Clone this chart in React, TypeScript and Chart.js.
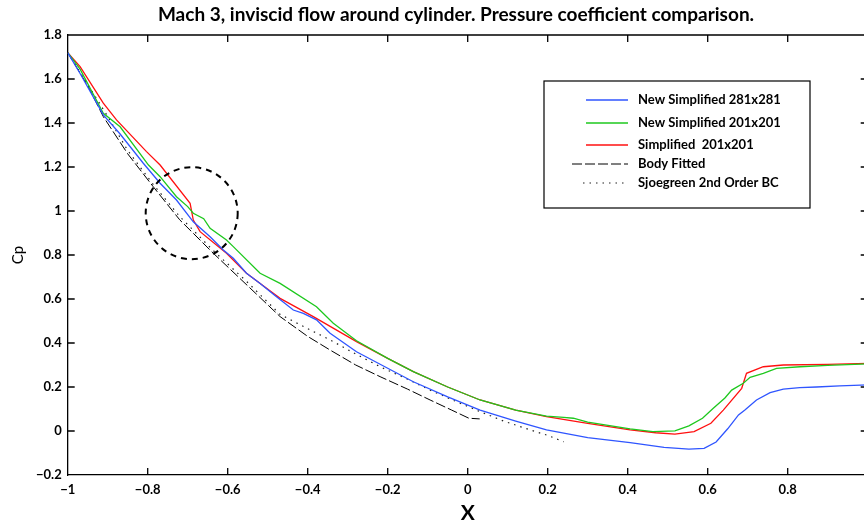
import React, { useEffect, useRef } from "react";
import { Chart, registerables } from "chart.js";

Chart.register(...registerables);

const titleText = "Mach 3, inviscid flow around cylinder. Pressure coefficient comparison.";
const xAxisLabel = "X";
const yAxisLabel = "Cp";

const xTickValues = [-1, -0.8, -0.6, -0.4, -0.2, 0, 0.2, 0.4, 0.6, 0.8];
const yTickValues = [-0.2, 0, 0.2, 0.4, 0.6, 0.8, 1, 1.2, 1.4, 1.6, 1.8];

const seriesLabels = [
  "New Simplified 281x281",
  "New Simplified 201x201",
  "Simplified  201x201",
  "Body Fitted",
  "Sjoegreen 2nd Order BC",
];

// New Simplified 281x281 (blue)
const blueX = [-1, -0.969, -0.911, -0.869, -0.811, -0.769, -0.728, -0.686, -0.644, -0.611, -0.586, -0.553, -0.519, -0.478, -0.436, -0.411, -0.378, -0.344, -0.278, -0.2, -0.136, -0.05, 0.031, 0.12, 0.197, 0.3, 0.406, 0.491, 0.553, 0.591, 0.621, 0.65, 0.677, 0.693, 0.722, 0.756, 0.789, 0.83, 0.872, 0.93, 1.0];
const blueY = [1.72, 1.625, 1.437, 1.35, 1.217, 1.126, 1.05, 0.951, 0.883, 0.823, 0.785, 0.717, 0.67, 0.61, 0.55, 0.535, 0.505, 0.444, 0.36, 0.285, 0.224, 0.155, 0.095, 0.045, 0.005, -0.03, -0.053, -0.074, -0.082, -0.079, -0.05, 0.01, 0.073, 0.095, 0.141, 0.174, 0.19, 0.197, 0.2, 0.205, 0.21];

// New Simplified 201x201 (green)
const greenX = [-1, -0.969, -0.911, -0.869, -0.798, -0.769, -0.728, -0.7, -0.686, -0.66, -0.644, -0.603, -0.586, -0.519, -0.469, -0.378, -0.336, -0.278, -0.2, -0.136, -0.05, 0.031, 0.12, 0.197, 0.24, 0.264, 0.3, 0.406, 0.463, 0.518, 0.553, 0.587, 0.614, 0.643, 0.66, 0.689, 0.706, 0.739, 0.772, 0.831, 0.9, 1.0];
const greenY = [1.72, 1.645, 1.444, 1.383, 1.209, 1.156, 1.065, 1.02, 0.99, 0.965, 0.921, 0.868, 0.838, 0.717, 0.671, 0.565, 0.49, 0.41, 0.33, 0.27, 0.2, 0.141, 0.095, 0.068, 0.062, 0.058, 0.04, 0.01, -0.003, 0.001, 0.023, 0.058, 0.103, 0.15, 0.186, 0.217, 0.244, 0.262, 0.285, 0.292, 0.298, 0.305];

// Simplified 201x201 (red)
const redX = [-1, -0.969, -0.911, -0.878, -0.803, -0.769, -0.694, -0.686, -0.669, -0.603, -0.553, -0.486, -0.469, -0.386, -0.278, -0.2, -0.136, -0.05, 0.031, 0.12, 0.197, 0.3, 0.406, 0.47, 0.518, 0.566, 0.608, 0.639, 0.685, 0.697, 0.739, 0.789, 0.9, 1.0];
const redY = [1.72, 1.656, 1.49, 1.414, 1.27, 1.209, 1.035, 0.959, 0.906, 0.808, 0.717, 0.626, 0.603, 0.52, 0.406, 0.33, 0.27, 0.2, 0.141, 0.095, 0.065, 0.035, 0.005, -0.008, -0.014, -0.003, 0.035, 0.095, 0.194, 0.262, 0.292, 0.3, 0.303, 0.307];

// Body Fitted (black dashed)
const bodyX = [-1, -0.95, -0.911, -0.85, -0.786, -0.72, -0.636, -0.55, -0.469, -0.4, -0.344, -0.28, -0.219, -0.15, -0.094, -0.04, 0.003, 0.03];
const bodyY = [1.72, 1.57, 1.429, 1.26, 1.11, 0.96, 0.808, 0.66, 0.52, 0.43, 0.368, 0.3, 0.247, 0.19, 0.141, 0.095, 0.058, 0.055];

// Sjoegreen 2nd Order BC (black dotted)
const sjoX = [-1, -0.95, -0.9, -0.85, -0.786, -0.72, -0.636, -0.55, -0.469, -0.4, -0.344, -0.28, -0.219, -0.15, -0.094, -0.03, 0.031, 0.09, 0.156, 0.2, 0.24];
const sjoY = [1.72, 1.575, 1.43, 1.275, 1.12, 0.975, 0.82, 0.675, 0.53, 0.465, 0.414, 0.35, 0.292, 0.235, 0.186, 0.135, 0.088, 0.045, 0.005, -0.02, -0.049];

// highlighted region (dashed circle)
const circleCenterX = -0.69;
const circleCenterY = 0.99;
const circleRadiusX = 0.115;

const toPoints = (xs: number[], ys: number[]) => xs.map((x, i) => ({ x, y: ys[i] }));

const fmt = (v: number) => {
  const r = Math.round(v * 10) / 10;
  return r < 0 ? "\u2212" + String(-r) : String(r);
};

const FONT = "Lato, 'Open Sans', sans-serif";

const titleShiftPlugin = {
  id: "titleShift",
  afterLayout(chart: any) {
    const tb = chart.titleBlock;
    if (tb) {
      tb.left = 40;
      tb.right = 872;
      tb.width = tb.right - tb.left;
    }
  },
};

const framePlugin = {
  id: "frame",
  afterDatasetsDraw(chart: any) {
    const { ctx, chartArea } = chart;
    const { left, right, top, bottom } = chartArea;
    const xs = chart.scales.x;
    const ys = chart.scales.y;
    const tl = 7;
    ctx.save();
    ctx.strokeStyle = "#000";
    ctx.lineWidth = 1.3;
    ctx.beginPath();
    ctx.moveTo(left, top);
    ctx.lineTo(right, top);
    xTickValues.forEach((v) => {
      const px = xs.getPixelForValue(v);
      if (Math.abs(px - left) < 1) return;
      ctx.moveTo(px, bottom);
      ctx.lineTo(px, bottom - tl);
      ctx.moveTo(px, top);
      ctx.lineTo(px, top + tl);
    });
    yTickValues.forEach((v) => {
      const py = ys.getPixelForValue(v);
      if (Math.abs(py - top) < 1 || Math.abs(py - bottom) < 1) return;
      ctx.moveTo(left, py);
      ctx.lineTo(left + tl, py);
      ctx.moveTo(right, py);
      ctx.lineTo(right - tl, py);
    });
    ctx.stroke();

    // dashed circle
    const cx = xs.getPixelForValue(circleCenterX);
    const cy = ys.getPixelForValue(circleCenterY);
    const r = xs.getPixelForValue(circleCenterX + circleRadiusX) - cx;
    ctx.setLineDash([6, 5]);
    ctx.lineWidth = 2;
    ctx.beginPath();
    ctx.arc(cx, cy, r, 0, Math.PI * 2);
    ctx.stroke();
    ctx.restore();
  },
};

const boxLegendPlugin = {
  id: "boxLegend",
  afterDraw(chart: any) {
    const { ctx } = chart;
    const boxL = 544, boxT = 81, boxR = 810, boxB = 208;
    const rows = [100, 123, 145, 164, 183];
    const starts = [586, 586, 586, 572, 583];
    const lineEnd = 628;
    const textX = 638;
    ctx.save();
    ctx.fillStyle = "#fff";
    ctx.fillRect(boxL, boxT, boxR - boxL, boxB - boxT);
    ctx.strokeStyle = "#000";
    ctx.lineWidth = 1.2;
    ctx.strokeRect(boxL, boxT, boxR - boxL, boxB - boxT);
    chart.data.datasets.forEach((ds: any, i: number) => {
      const y = rows[i];
      ctx.save();
      ctx.strokeStyle = ds.borderColor;
      ctx.lineWidth = ds.borderWidth;
      ctx.setLineDash(ds.borderDash || []);
      ctx.beginPath();
      ctx.moveTo(starts[i], y);
      ctx.lineTo(lineEnd, y);
      ctx.stroke();
      ctx.restore();
      ctx.fillStyle = "#000";
      ctx.font = "bold 13px " + FONT;
      ctx.textBaseline = "middle";
      ctx.textAlign = "left";
      ctx.fillText(ds.label, textX, y);
    });
    ctx.restore();
  },
};

export default function App() {
  const canvasRef = useRef<HTMLCanvasElement | null>(null);

  useEffect(() => {
    const canvas = canvasRef.current;
    if (!canvas) return;
    const tickFont = { family: FONT, size: 13, weight: "bold" as const };
    const chart = new Chart(canvas, {
      type: "line",
      data: {
        datasets: [
          { label: seriesLabels[0], data: toPoints(blueX, blueY), borderColor: "#2f55ff", borderWidth: 1.3, pointRadius: 0, tension: 0, fill: false },
          { label: seriesLabels[1], data: toPoints(greenX, greenY), borderColor: "#1ec81e", borderWidth: 1.3, pointRadius: 0, tension: 0, fill: false },
          { label: seriesLabels[2], data: toPoints(redX, redY), borderColor: "#ff1010", borderWidth: 1.3, pointRadius: 0, tension: 0, fill: false },
          { label: seriesLabels[3], data: toPoints(bodyX, bodyY), borderColor: "#000", borderWidth: 1, borderDash: [10, 3], pointRadius: 0, tension: 0, fill: false },
          { label: seriesLabels[4], data: toPoints(sjoX, sjoY), borderColor: "#222", borderWidth: 1.2, borderDash: [1.5, 5], pointRadius: 0, tension: 0, fill: false },
        ],
      },
      options: {
        responsive: false,
        animation: false,
        devicePixelRatio: 1,
        layout: { padding: { left: 0, right: 4.3, top: 0, bottom: 0 } },
        plugins: {
          legend: { display: false },
          tooltip: { enabled: false },
          title: {
            display: true,
            text: titleText,
            color: "#000",
            font: { family: FONT, size: 19, weight: "bold" },
            padding: { top: 3, bottom: 9.2 },
            fullSize: true,
          },
        },
        scales: {
          x: {
            type: "linear",
            min: -1,
            max: 1,
            afterBuildTicks: (s: any) => {
              s.ticks = xTickValues.map((v) => ({ value: v }));
            },
            afterFit: (s: any) => {
              s.height = 51;
            },
            grid: { display: false, drawTicks: false },
            border: { display: true, color: "#000", width: 1.3 },
            ticks: { padding: 7, color: "#000", font: tickFont, maxRotation: 0, autoSkip: false, callback: (v: any) => fmt(Number(v)) },
            title: { display: true, text: xAxisLabel, color: "#000", font: { family: FONT, size: 21, weight: "bold" }, padding: { top: 0, bottom: 0 } },
          },
          y: {
            type: "linear",
            min: -0.2,
            max: 1.8,
            afterBuildTicks: (s: any) => {
              s.ticks = yTickValues.map((v) => ({ value: v }));
            },
            afterFit: (s: any) => {
              s.width = 67.7;
            },
            grid: { display: false, drawTicks: false },
            border: { display: true, color: "#000", width: 1.3 },
            ticks: { padding: 6, color: "#000", font: tickFont, autoSkip: false, callback: (v: any) => fmt(Number(v)) },
            title: { display: true, text: yAxisLabel, color: "#000", font: { family: FONT, size: 15, weight: "normal" }, padding: { top: 9, bottom: 0 } },
          },
        },
      },
      plugins: [titleShiftPlugin, framePlugin, boxLegendPlugin],
    } as any);
    return () => chart.destroy();
  }, []);

  return (
    <div style={{ position: "fixed", left: 0, top: 0, width: 864, height: 526, overflow: "hidden", background: "#fff" }}>
      <canvas ref={canvasRef} width={872} height={526} style={{ display: "block", width: 872, height: 526 }} />
    </div>
  );
}
